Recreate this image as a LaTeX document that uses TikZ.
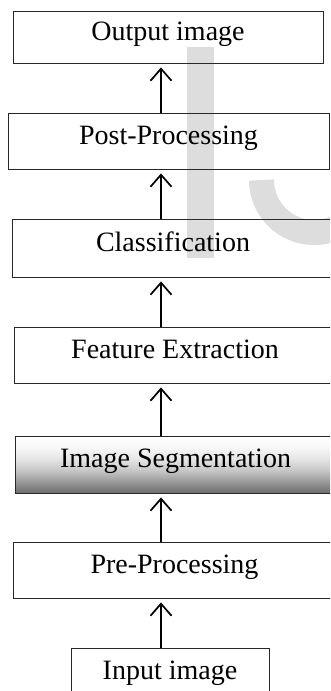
\documentclass[tikz,border=0pt]{standalone}
\usepackage{fontspec}
\setmainfont{Liberation Serif}
\usetikzlibrary{arrows.meta}

\definecolor{boxline}{RGB}{40,40,40}
\definecolor{markgray}{RGB}{221,221,221}

% vertical fill for the highlighted stage (bottom -> top)
\pgfdeclareverticalshading{segshade}{100bp}{%
  color(0bp)=(black!57); color(25bp)=(black!57); color(35bp)=(black!40);
  color(45bp)=(black!22); color(55bp)=(black!10); color(65bp)=(black!3);
  color(75bp)=(white); color(100bp)=(white)}

\tikzset{
  stagebox/.style={draw=boxline, line width=0.9pt, inner sep=0pt,
    font=\fontsize{28}{33}\selectfont, text height=0.66em, text depth=0pt},
  flow/.style={line width=1.7pt, -{Straight Barb[length=12pt,width=21pt,line width=1.7pt]},
    shorten >=4pt},
  lettering/.style={markgray}
}

\begin{document}
\begin{tikzpicture}[x=1pt,y=-1pt]
\clip (0,0) rectangle (330,691);
\fill[white] (0,0) rectangle (330,691);

% faint background lettering
\fill[lettering] (187,47) rectangle (214,258);
\draw[lettering, line width=25pt] (261.5,180) arc[start angle=180, end angle=0, radius=52.5];

% processing stages, top to bottom
\node[stagebox, minimum width=310pt, minimum height=52pt] (out)  at (168,37)    {Output image};
\node[stagebox, minimum width=321pt, minimum height=56pt] (post) at (168.5,141)  {Post-Processing};
\node[stagebox, minimum width=322pt, minimum height=58pt] (cls)  at (173,248)   {Classification};
\node[stagebox, minimum width=322pt, minimum height=56pt] (feat) at (175,355)   {Feature Extraction};
\node[stagebox, minimum width=321pt, minimum height=57pt, shading=segshade] (seg) at (175.5,464.5) {Image Segmentation};
\node[stagebox, minimum width=323pt, minimum height=56pt] (pre)  at (174.5,570) {Pre-Processing};
\node[stagebox, minimum width=198pt, minimum height=56pt] (in)   at (170,676)   {Input image};

% data flows upward along one column
\coordinate (col) at (161,0);
\draw[flow] (in.north -| col)   -- (pre.south -| col);
\draw[flow] (pre.north -| col)  -- (seg.south -| col);
\draw[flow] (seg.north -| col)  -- (feat.south -| col);
\draw[flow] (feat.north -| col) -- (cls.south -| col);
\draw[flow] (cls.north -| col)  -- (post.south -| col);
\draw[flow] (post.north -| col) -- (out.south -| col);
\end{tikzpicture}
\end{document}
